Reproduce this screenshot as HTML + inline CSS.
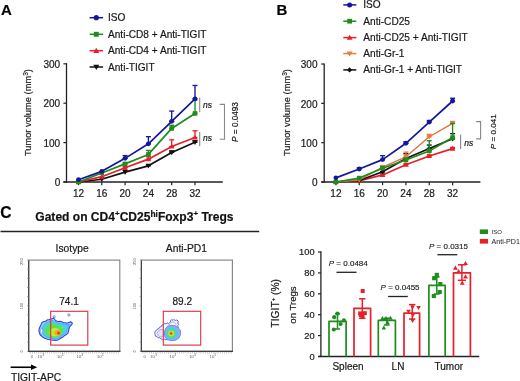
<!DOCTYPE html>
<html><head><meta charset="utf-8"><style>
html,body{margin:0;padding:0;background:#fff;overflow:hidden;}
svg{display:block;font-family:"Liberation Sans", sans-serif;will-change:transform;}
text{stroke:#1a1a1a;stroke-width:0.2px;}
text.lt{stroke:none;}
text.th{stroke-width:0.14px;}
</style></head><body>
<svg width="520" height="381" viewBox="0 0 520 381">
<rect width="520" height="381" fill="#fff"/>
<text x="0.90" y="14.60" font-size="15" text-anchor="start" font-weight="bold" font-style="normal" fill="#000" >A</text>
<line x1="89.60" y1="17.70" x2="103.10" y2="17.70" stroke="#16169c" stroke-width="1.5" />
<circle cx="96.30" cy="17.70" r="2.60" fill="#16169c"/>
<text x="108.00" y="21.20" font-size="10.1" text-anchor="start" font-weight="normal" font-style="normal" fill="#1a1a1a" >ISO</text>
<line x1="89.60" y1="34.30" x2="103.10" y2="34.30" stroke="#1e8c1e" stroke-width="1.5" />
<rect x="93.83" y="31.83" width="4.94" height="4.94" fill="#1e8c1e"/>
<text x="108.00" y="37.80" font-size="10.1" text-anchor="start" font-weight="normal" font-style="normal" fill="#1a1a1a" >Anti-CD8 + Anti-TIGIT</text>
<line x1="89.60" y1="50.70" x2="103.10" y2="50.70" stroke="#e5202a" stroke-width="1.5" />
<path d="M96.30,47.71 L99.29,52.94 L93.31,52.94Z" fill="#e5202a"/>
<text x="108.00" y="54.20" font-size="10.1" text-anchor="start" font-weight="normal" font-style="normal" fill="#1a1a1a" >Anti-CD4 + Anti-TIGIT</text>
<line x1="89.60" y1="67.00" x2="103.10" y2="67.00" stroke="#111" stroke-width="1.5" />
<path d="M96.30,69.99 L99.29,64.76 L93.31,64.76Z" fill="#111"/>
<text x="108.00" y="70.50" font-size="10.1" text-anchor="start" font-weight="normal" font-style="normal" fill="#1a1a1a" >Anti-TIGIT</text>
<line x1="66.50" y1="63.20" x2="66.50" y2="182.60" stroke="#222" stroke-width="1.3" />
<line x1="63.30" y1="182.00" x2="222.80" y2="182.00" stroke="#222" stroke-width="1.3" />
<line x1="63.40" y1="182.00" x2="66.50" y2="182.00" stroke="#222" stroke-width="1.2" />
<text x="60.20" y="186.20" font-size="10" text-anchor="end" font-weight="normal" font-style="normal" fill="#1a1a1a" >0</text>
<line x1="63.40" y1="142.60" x2="66.50" y2="142.60" stroke="#222" stroke-width="1.2" />
<text x="60.20" y="146.80" font-size="10" text-anchor="end" font-weight="normal" font-style="normal" fill="#1a1a1a" >100</text>
<line x1="63.40" y1="103.20" x2="66.50" y2="103.20" stroke="#222" stroke-width="1.2" />
<text x="60.20" y="107.40" font-size="10" text-anchor="end" font-weight="normal" font-style="normal" fill="#1a1a1a" >200</text>
<line x1="63.40" y1="63.80" x2="66.50" y2="63.80" stroke="#222" stroke-width="1.2" />
<text x="60.20" y="68.00" font-size="10" text-anchor="end" font-weight="normal" font-style="normal" fill="#1a1a1a" >300</text>
<line x1="78.50" y1="182.00" x2="78.50" y2="185.20" stroke="#222" stroke-width="1.2" />
<text x="78.50" y="196.50" font-size="10" text-anchor="middle" font-weight="normal" font-style="normal" fill="#1a1a1a" >12</text>
<line x1="101.80" y1="182.00" x2="101.80" y2="185.20" stroke="#222" stroke-width="1.2" />
<text x="101.80" y="196.50" font-size="10" text-anchor="middle" font-weight="normal" font-style="normal" fill="#1a1a1a" >16</text>
<line x1="125.10" y1="182.00" x2="125.10" y2="185.20" stroke="#222" stroke-width="1.2" />
<text x="125.10" y="196.50" font-size="10" text-anchor="middle" font-weight="normal" font-style="normal" fill="#1a1a1a" >20</text>
<line x1="148.40" y1="182.00" x2="148.40" y2="185.20" stroke="#222" stroke-width="1.2" />
<text x="148.40" y="196.50" font-size="10" text-anchor="middle" font-weight="normal" font-style="normal" fill="#1a1a1a" >24</text>
<line x1="171.70" y1="182.00" x2="171.70" y2="185.20" stroke="#222" stroke-width="1.2" />
<text x="171.70" y="196.50" font-size="10" text-anchor="middle" font-weight="normal" font-style="normal" fill="#1a1a1a" >28</text>
<line x1="195.00" y1="182.00" x2="195.00" y2="185.20" stroke="#222" stroke-width="1.2" />
<text x="195.00" y="196.50" font-size="10" text-anchor="middle" font-weight="normal" font-style="normal" fill="#1a1a1a" >32</text>
<text transform="translate(30.8,112.6) rotate(-90)" font-size="9.3" text-anchor="middle" fill="#1a1a1a">Tumor volume (mm<tspan font-size="6.6" dy="-3.3">3</tspan><tspan dy="3.3">)</tspan></text>
<polyline points="78.50,182.00 101.80,179.24 125.10,172.15 148.40,165.85 171.70,152.45 195.00,142.21" fill="none" stroke="#111" stroke-width="1.7" stroke-linejoin="round"/>
<line x1="148.40" y1="164.66" x2="148.40" y2="165.85" stroke="#111" stroke-width="1.35" />
<line x1="145.90" y1="164.66" x2="150.90" y2="164.66" stroke="#111" stroke-width="1.35" />
<line x1="145.90" y1="165.85" x2="150.90" y2="165.85" stroke="#111" stroke-width="1.35" />
<line x1="171.70" y1="150.87" x2="171.70" y2="152.45" stroke="#111" stroke-width="1.35" />
<line x1="169.20" y1="150.87" x2="174.20" y2="150.87" stroke="#111" stroke-width="1.35" />
<line x1="169.20" y1="152.45" x2="174.20" y2="152.45" stroke="#111" stroke-width="1.35" />
<line x1="195.00" y1="140.63" x2="195.00" y2="142.21" stroke="#111" stroke-width="1.35" />
<line x1="192.50" y1="140.63" x2="197.50" y2="140.63" stroke="#111" stroke-width="1.35" />
<line x1="192.50" y1="142.21" x2="197.50" y2="142.21" stroke="#111" stroke-width="1.35" />
<path d="M78.50,184.76 L81.26,179.93 L75.74,179.93Z" fill="#111"/>
<path d="M101.80,182.00 L104.56,177.17 L99.04,177.17Z" fill="#111"/>
<path d="M125.10,174.91 L127.86,170.08 L122.34,170.08Z" fill="#111"/>
<path d="M148.40,168.61 L151.16,163.78 L145.64,163.78Z" fill="#111"/>
<path d="M171.70,155.21 L174.46,150.38 L168.94,150.38Z" fill="#111"/>
<path d="M195.00,144.97 L197.76,140.14 L192.24,140.14Z" fill="#111"/>
<polyline points="78.50,182.00 101.80,176.68 125.10,167.82 148.40,159.15 171.70,146.54 195.00,137.48" fill="none" stroke="#e5202a" stroke-width="1.7" stroke-linejoin="round"/>
<line x1="125.10" y1="166.63" x2="125.10" y2="167.82" stroke="#e5202a" stroke-width="1.35" />
<line x1="122.60" y1="166.63" x2="127.60" y2="166.63" stroke="#e5202a" stroke-width="1.35" />
<line x1="122.60" y1="167.82" x2="127.60" y2="167.82" stroke="#e5202a" stroke-width="1.35" />
<line x1="148.40" y1="156.78" x2="148.40" y2="159.15" stroke="#e5202a" stroke-width="1.35" />
<line x1="145.90" y1="156.78" x2="150.90" y2="156.78" stroke="#e5202a" stroke-width="1.35" />
<line x1="145.90" y1="159.15" x2="150.90" y2="159.15" stroke="#e5202a" stroke-width="1.35" />
<line x1="171.70" y1="139.84" x2="171.70" y2="146.54" stroke="#e5202a" stroke-width="1.35" />
<line x1="169.20" y1="139.84" x2="174.20" y2="139.84" stroke="#e5202a" stroke-width="1.35" />
<line x1="169.20" y1="146.54" x2="174.20" y2="146.54" stroke="#e5202a" stroke-width="1.35" />
<line x1="195.00" y1="130.78" x2="195.00" y2="137.48" stroke="#e5202a" stroke-width="1.35" />
<line x1="192.50" y1="130.78" x2="197.50" y2="130.78" stroke="#e5202a" stroke-width="1.35" />
<line x1="192.50" y1="137.48" x2="197.50" y2="137.48" stroke="#e5202a" stroke-width="1.35" />
<path d="M78.50,179.24 L81.26,184.07 L75.74,184.07Z" fill="#e5202a"/>
<path d="M101.80,173.92 L104.56,178.75 L99.04,178.75Z" fill="#e5202a"/>
<path d="M125.10,165.06 L127.86,169.89 L122.34,169.89Z" fill="#e5202a"/>
<path d="M148.40,156.39 L151.16,161.22 L145.64,161.22Z" fill="#e5202a"/>
<path d="M171.70,143.78 L174.46,148.61 L168.94,148.61Z" fill="#e5202a"/>
<path d="M195.00,134.72 L197.76,139.55 L192.24,139.55Z" fill="#e5202a"/>
<polyline points="78.50,182.00 101.80,172.94 125.10,163.88 148.40,154.42 171.70,128.42 195.00,113.44" fill="none" stroke="#1e8c1e" stroke-width="1.7" stroke-linejoin="round"/>
<line x1="125.10" y1="162.69" x2="125.10" y2="163.88" stroke="#1e8c1e" stroke-width="1.35" />
<line x1="122.60" y1="162.69" x2="127.60" y2="162.69" stroke="#1e8c1e" stroke-width="1.35" />
<line x1="122.60" y1="163.88" x2="127.60" y2="163.88" stroke="#1e8c1e" stroke-width="1.35" />
<line x1="148.40" y1="150.48" x2="148.40" y2="154.42" stroke="#1e8c1e" stroke-width="1.35" />
<line x1="145.90" y1="150.48" x2="150.90" y2="150.48" stroke="#1e8c1e" stroke-width="1.35" />
<line x1="145.90" y1="154.42" x2="150.90" y2="154.42" stroke="#1e8c1e" stroke-width="1.35" />
<line x1="171.70" y1="125.26" x2="171.70" y2="128.42" stroke="#1e8c1e" stroke-width="1.35" />
<line x1="169.20" y1="125.26" x2="174.20" y2="125.26" stroke="#1e8c1e" stroke-width="1.35" />
<line x1="169.20" y1="128.42" x2="174.20" y2="128.42" stroke="#1e8c1e" stroke-width="1.35" />
<line x1="195.00" y1="100.05" x2="195.00" y2="113.44" stroke="#1e8c1e" stroke-width="1.35" />
<line x1="192.50" y1="100.05" x2="197.50" y2="100.05" stroke="#1e8c1e" stroke-width="1.35" />
<line x1="192.50" y1="113.44" x2="197.50" y2="113.44" stroke="#1e8c1e" stroke-width="1.35" />
<rect x="76.22" y="179.72" width="4.56" height="4.56" fill="#1e8c1e"/>
<rect x="99.52" y="170.66" width="4.56" height="4.56" fill="#1e8c1e"/>
<rect x="122.82" y="161.60" width="4.56" height="4.56" fill="#1e8c1e"/>
<rect x="146.12" y="152.14" width="4.56" height="4.56" fill="#1e8c1e"/>
<rect x="169.42" y="126.14" width="4.56" height="4.56" fill="#1e8c1e"/>
<rect x="192.72" y="111.16" width="4.56" height="4.56" fill="#1e8c1e"/>
<polyline points="78.50,179.71 101.80,171.36 125.10,158.36 148.40,143.78 171.70,121.32 195.00,98.87" fill="none" stroke="#16169c" stroke-width="1.7" stroke-linejoin="round"/>
<line x1="125.10" y1="155.60" x2="125.10" y2="158.36" stroke="#16169c" stroke-width="1.35" />
<line x1="122.60" y1="155.60" x2="127.60" y2="155.60" stroke="#16169c" stroke-width="1.35" />
<line x1="122.60" y1="158.36" x2="127.60" y2="158.36" stroke="#16169c" stroke-width="1.35" />
<line x1="148.40" y1="136.69" x2="148.40" y2="143.78" stroke="#16169c" stroke-width="1.35" />
<line x1="145.90" y1="136.69" x2="150.90" y2="136.69" stroke="#16169c" stroke-width="1.35" />
<line x1="145.90" y1="143.78" x2="150.90" y2="143.78" stroke="#16169c" stroke-width="1.35" />
<line x1="171.70" y1="111.08" x2="171.70" y2="121.32" stroke="#16169c" stroke-width="1.35" />
<line x1="169.20" y1="111.08" x2="174.20" y2="111.08" stroke="#16169c" stroke-width="1.35" />
<line x1="169.20" y1="121.32" x2="174.20" y2="121.32" stroke="#16169c" stroke-width="1.35" />
<line x1="195.00" y1="85.47" x2="195.00" y2="98.87" stroke="#16169c" stroke-width="1.35" />
<line x1="192.50" y1="85.47" x2="197.50" y2="85.47" stroke="#16169c" stroke-width="1.35" />
<line x1="192.50" y1="98.87" x2="197.50" y2="98.87" stroke="#16169c" stroke-width="1.35" />
<circle cx="78.50" cy="179.71" r="2.40" fill="#16169c"/>
<circle cx="101.80" cy="171.36" r="2.40" fill="#16169c"/>
<circle cx="125.10" cy="158.36" r="2.40" fill="#16169c"/>
<circle cx="148.40" cy="143.78" r="2.40" fill="#16169c"/>
<circle cx="171.70" cy="121.32" r="2.40" fill="#16169c"/>
<circle cx="195.00" cy="98.87" r="2.40" fill="#16169c"/>
<line x1="199.70" y1="97.80" x2="199.70" y2="112.20" stroke="#888" stroke-width="1.1" />
<text x="203.00" y="107.60" font-size="8.5" text-anchor="start" font-weight="normal" font-style="italic" fill="#1a1a1a" >ns</text>
<line x1="199.70" y1="131.90" x2="199.70" y2="146.30" stroke="#888" stroke-width="1.1" />
<text x="203.00" y="140.60" font-size="8.5" text-anchor="start" font-weight="normal" font-style="italic" fill="#1a1a1a" >ns</text>
<path d="M219.7,104.4 H224.5 V139.3 H219.7" fill="none" stroke="#888" stroke-width="1.1"/>
<text transform="translate(237.9,122.0) rotate(-90)" font-size="8.2" text-anchor="middle" fill="#1a1a1a"><tspan font-style="italic">P</tspan> = 0.0493</text>
<text x="276.50" y="14.70" font-size="15" text-anchor="start" font-weight="bold" font-style="normal" fill="#000" >B</text>
<line x1="343.30" y1="4.90" x2="356.30" y2="4.90" stroke="#16169c" stroke-width="1.5" />
<circle cx="349.60" cy="4.90" r="2.50" fill="#16169c"/>
<text x="363.30" y="8.40" font-size="10.15" text-anchor="start" font-weight="normal" font-style="normal" fill="#1a1a1a" >ISO</text>
<line x1="343.30" y1="21.20" x2="356.30" y2="21.20" stroke="#1e8c1e" stroke-width="1.5" />
<rect x="347.23" y="18.82" width="4.75" height="4.75" fill="#1e8c1e"/>
<text x="363.30" y="24.70" font-size="10.15" text-anchor="start" font-weight="normal" font-style="normal" fill="#1a1a1a" >Anti-CD25</text>
<line x1="343.30" y1="37.60" x2="356.30" y2="37.60" stroke="#e5202a" stroke-width="1.5" />
<path d="M349.60,34.73 L352.48,39.76 L346.73,39.76Z" fill="#e5202a"/>
<text x="363.30" y="41.10" font-size="10.15" text-anchor="start" font-weight="normal" font-style="normal" fill="#1a1a1a" >Anti-CD25 + Anti-TIGIT</text>
<line x1="343.30" y1="53.60" x2="356.30" y2="53.60" stroke="#e97c42" stroke-width="1.5" />
<path d="M349.60,56.48 L352.48,51.44 L346.73,51.44Z" fill="#e97c42"/>
<text x="363.30" y="57.10" font-size="10.15" text-anchor="start" font-weight="normal" font-style="normal" fill="#1a1a1a" >Anti-Gr-1</text>
<line x1="343.30" y1="69.90" x2="356.30" y2="69.90" stroke="#111" stroke-width="1.5" />
<path d="M349.60,67.28 L352.23,69.90 L349.60,72.53 L346.98,69.90Z" fill="#111"/>
<text x="363.30" y="73.40" font-size="10.15" text-anchor="start" font-weight="normal" font-style="normal" fill="#1a1a1a" >Anti-Gr-1 + Anti-TIGIT</text>
<line x1="324.20" y1="63.50" x2="324.20" y2="182.60" stroke="#222" stroke-width="1.3" />
<line x1="321.20" y1="182.00" x2="480.40" y2="182.00" stroke="#222" stroke-width="1.3" />
<line x1="321.20" y1="182.00" x2="324.20" y2="182.00" stroke="#222" stroke-width="1.2" />
<text x="317.50" y="186.20" font-size="10" text-anchor="end" font-weight="normal" font-style="normal" fill="#1a1a1a" >0</text>
<line x1="321.20" y1="142.68" x2="324.20" y2="142.68" stroke="#222" stroke-width="1.2" />
<text x="317.50" y="146.88" font-size="10" text-anchor="end" font-weight="normal" font-style="normal" fill="#1a1a1a" >100</text>
<line x1="321.20" y1="103.36" x2="324.20" y2="103.36" stroke="#222" stroke-width="1.2" />
<text x="317.50" y="107.56" font-size="10" text-anchor="end" font-weight="normal" font-style="normal" fill="#1a1a1a" >200</text>
<line x1="321.20" y1="64.04" x2="324.20" y2="64.04" stroke="#222" stroke-width="1.2" />
<text x="317.50" y="68.24" font-size="10" text-anchor="end" font-weight="normal" font-style="normal" fill="#1a1a1a" >300</text>
<line x1="335.90" y1="182.00" x2="335.90" y2="185.20" stroke="#222" stroke-width="1.2" />
<text x="335.90" y="196.50" font-size="10" text-anchor="middle" font-weight="normal" font-style="normal" fill="#1a1a1a" >12</text>
<line x1="359.24" y1="182.00" x2="359.24" y2="185.20" stroke="#222" stroke-width="1.2" />
<text x="359.24" y="196.50" font-size="10" text-anchor="middle" font-weight="normal" font-style="normal" fill="#1a1a1a" >16</text>
<line x1="382.58" y1="182.00" x2="382.58" y2="185.20" stroke="#222" stroke-width="1.2" />
<text x="382.58" y="196.50" font-size="10" text-anchor="middle" font-weight="normal" font-style="normal" fill="#1a1a1a" >20</text>
<line x1="405.92" y1="182.00" x2="405.92" y2="185.20" stroke="#222" stroke-width="1.2" />
<text x="405.92" y="196.50" font-size="10" text-anchor="middle" font-weight="normal" font-style="normal" fill="#1a1a1a" >24</text>
<line x1="429.26" y1="182.00" x2="429.26" y2="185.20" stroke="#222" stroke-width="1.2" />
<text x="429.26" y="196.50" font-size="10" text-anchor="middle" font-weight="normal" font-style="normal" fill="#1a1a1a" >28</text>
<line x1="452.60" y1="182.00" x2="452.60" y2="185.20" stroke="#222" stroke-width="1.2" />
<text x="452.60" y="196.50" font-size="10" text-anchor="middle" font-weight="normal" font-style="normal" fill="#1a1a1a" >32</text>
<text transform="translate(290.2,112.6) rotate(-90)" font-size="9.3" text-anchor="middle" fill="#1a1a1a">Tumor volume (mm<tspan font-size="6.6" dy="-3.3">3</tspan><tspan dy="3.3">)</tspan></text>
<polyline points="335.90,182.00 359.24,180.82 382.58,174.92 405.92,164.70 429.26,156.05 452.60,148.58" fill="none" stroke="#e5202a" stroke-width="1.7" stroke-linejoin="round"/>
<line x1="382.58" y1="173.74" x2="382.58" y2="174.92" stroke="#e5202a" stroke-width="1.35" />
<line x1="380.08" y1="173.74" x2="385.08" y2="173.74" stroke="#e5202a" stroke-width="1.35" />
<line x1="380.08" y1="174.92" x2="385.08" y2="174.92" stroke="#e5202a" stroke-width="1.35" />
<line x1="405.92" y1="163.52" x2="405.92" y2="164.70" stroke="#e5202a" stroke-width="1.35" />
<line x1="403.42" y1="163.52" x2="408.42" y2="163.52" stroke="#e5202a" stroke-width="1.35" />
<line x1="403.42" y1="164.70" x2="408.42" y2="164.70" stroke="#e5202a" stroke-width="1.35" />
<line x1="429.26" y1="154.87" x2="429.26" y2="156.05" stroke="#e5202a" stroke-width="1.35" />
<line x1="426.76" y1="154.87" x2="431.76" y2="154.87" stroke="#e5202a" stroke-width="1.35" />
<line x1="426.76" y1="156.05" x2="431.76" y2="156.05" stroke="#e5202a" stroke-width="1.35" />
<line x1="452.60" y1="147.40" x2="452.60" y2="148.58" stroke="#e5202a" stroke-width="1.35" />
<line x1="450.10" y1="147.40" x2="455.10" y2="147.40" stroke="#e5202a" stroke-width="1.35" />
<line x1="450.10" y1="148.58" x2="455.10" y2="148.58" stroke="#e5202a" stroke-width="1.35" />
<path d="M335.90,179.24 L338.66,184.07 L333.14,184.07Z" fill="#e5202a"/>
<path d="M359.24,178.06 L362.00,182.89 L356.48,182.89Z" fill="#e5202a"/>
<path d="M382.58,172.16 L385.34,176.99 L379.82,176.99Z" fill="#e5202a"/>
<path d="M405.92,161.94 L408.68,166.77 L403.16,166.77Z" fill="#e5202a"/>
<path d="M429.26,153.29 L432.02,158.12 L426.50,158.12Z" fill="#e5202a"/>
<path d="M452.60,145.82 L455.36,150.65 L449.84,150.65Z" fill="#e5202a"/>
<polyline points="335.90,182.00 359.24,180.43 382.58,171.78 405.92,158.41 429.26,148.58 452.60,138.75" fill="none" stroke="#111" stroke-width="1.7" stroke-linejoin="round"/>
<line x1="382.58" y1="168.63" x2="382.58" y2="171.78" stroke="#111" stroke-width="1.35" />
<line x1="380.08" y1="168.63" x2="385.08" y2="168.63" stroke="#111" stroke-width="1.35" />
<line x1="380.08" y1="171.78" x2="385.08" y2="171.78" stroke="#111" stroke-width="1.35" />
<line x1="405.92" y1="153.69" x2="405.92" y2="158.41" stroke="#111" stroke-width="1.35" />
<line x1="403.42" y1="153.69" x2="408.42" y2="153.69" stroke="#111" stroke-width="1.35" />
<line x1="403.42" y1="158.41" x2="408.42" y2="158.41" stroke="#111" stroke-width="1.35" />
<line x1="429.26" y1="145.04" x2="429.26" y2="148.58" stroke="#111" stroke-width="1.35" />
<line x1="426.76" y1="145.04" x2="431.76" y2="145.04" stroke="#111" stroke-width="1.35" />
<line x1="426.76" y1="148.58" x2="431.76" y2="148.58" stroke="#111" stroke-width="1.35" />
<line x1="452.60" y1="133.64" x2="452.60" y2="138.75" stroke="#111" stroke-width="1.35" />
<line x1="450.10" y1="133.64" x2="455.10" y2="133.64" stroke="#111" stroke-width="1.35" />
<line x1="450.10" y1="138.75" x2="455.10" y2="138.75" stroke="#111" stroke-width="1.35" />
<path d="M335.90,179.48 L338.42,182.00 L335.90,184.52 L333.38,182.00Z" fill="#111"/>
<path d="M359.24,177.91 L361.76,180.43 L359.24,182.95 L356.72,180.43Z" fill="#111"/>
<path d="M382.58,169.26 L385.10,171.78 L382.58,174.30 L380.06,171.78Z" fill="#111"/>
<path d="M405.92,155.89 L408.44,158.41 L405.92,160.93 L403.40,158.41Z" fill="#111"/>
<path d="M429.26,146.06 L431.78,148.58 L429.26,151.10 L426.74,148.58Z" fill="#111"/>
<path d="M452.60,136.23 L455.12,138.75 L452.60,141.27 L450.08,138.75Z" fill="#111"/>
<polyline points="335.90,182.00 359.24,180.03 382.58,167.06 405.92,156.84 429.26,136.78 452.60,123.41" fill="none" stroke="#dc7040" stroke-width="1.35" stroke-linejoin="round"/>
<line x1="382.58" y1="165.49" x2="382.58" y2="167.06" stroke="#e97c42" stroke-width="1.35" />
<line x1="380.08" y1="165.49" x2="385.08" y2="165.49" stroke="#e97c42" stroke-width="1.35" />
<line x1="380.08" y1="167.06" x2="385.08" y2="167.06" stroke="#e97c42" stroke-width="1.35" />
<line x1="405.92" y1="152.12" x2="405.92" y2="156.84" stroke="#e97c42" stroke-width="1.35" />
<line x1="403.42" y1="152.12" x2="408.42" y2="152.12" stroke="#e97c42" stroke-width="1.35" />
<line x1="403.42" y1="156.84" x2="408.42" y2="156.84" stroke="#e97c42" stroke-width="1.35" />
<line x1="429.26" y1="134.42" x2="429.26" y2="136.78" stroke="#e97c42" stroke-width="1.35" />
<line x1="426.76" y1="134.42" x2="431.76" y2="134.42" stroke="#e97c42" stroke-width="1.35" />
<line x1="426.76" y1="136.78" x2="431.76" y2="136.78" stroke="#e97c42" stroke-width="1.35" />
<line x1="452.60" y1="121.45" x2="452.60" y2="123.41" stroke="#e97c42" stroke-width="1.35" />
<line x1="450.10" y1="121.45" x2="455.10" y2="121.45" stroke="#e97c42" stroke-width="1.35" />
<line x1="450.10" y1="123.41" x2="455.10" y2="123.41" stroke="#e97c42" stroke-width="1.35" />
<path d="M335.90,184.76 L338.66,179.93 L333.14,179.93Z" fill="#e97c42"/>
<path d="M359.24,182.79 L362.00,177.96 L356.48,177.96Z" fill="#e97c42"/>
<path d="M382.58,169.82 L385.34,164.99 L379.82,164.99Z" fill="#e97c42"/>
<path d="M405.92,159.60 L408.68,154.77 L403.16,154.77Z" fill="#e97c42"/>
<path d="M429.26,139.54 L432.02,134.71 L426.50,134.71Z" fill="#e97c42"/>
<path d="M452.60,126.17 L455.36,121.34 L449.84,121.34Z" fill="#e97c42"/>
<polyline points="335.90,182.00 359.24,178.07 382.58,168.24 405.92,159.98 429.26,150.94 452.60,137.57" fill="none" stroke="#1e8c1e" stroke-width="1.7" stroke-linejoin="round"/>
<line x1="382.58" y1="166.67" x2="382.58" y2="168.24" stroke="#1e8c1e" stroke-width="1.35" />
<line x1="380.08" y1="166.67" x2="385.08" y2="166.67" stroke="#1e8c1e" stroke-width="1.35" />
<line x1="380.08" y1="168.24" x2="385.08" y2="168.24" stroke="#1e8c1e" stroke-width="1.35" />
<line x1="405.92" y1="158.01" x2="405.92" y2="159.98" stroke="#1e8c1e" stroke-width="1.35" />
<line x1="403.42" y1="158.01" x2="408.42" y2="158.01" stroke="#1e8c1e" stroke-width="1.35" />
<line x1="403.42" y1="159.98" x2="408.42" y2="159.98" stroke="#1e8c1e" stroke-width="1.35" />
<line x1="429.26" y1="140.71" x2="429.26" y2="150.94" stroke="#1e8c1e" stroke-width="1.35" />
<line x1="426.76" y1="140.71" x2="431.76" y2="140.71" stroke="#1e8c1e" stroke-width="1.35" />
<line x1="426.76" y1="150.94" x2="431.76" y2="150.94" stroke="#1e8c1e" stroke-width="1.35" />
<line x1="452.60" y1="123.41" x2="452.60" y2="137.57" stroke="#1e8c1e" stroke-width="1.35" />
<line x1="450.10" y1="123.41" x2="455.10" y2="123.41" stroke="#1e8c1e" stroke-width="1.35" />
<line x1="450.10" y1="137.57" x2="455.10" y2="137.57" stroke="#1e8c1e" stroke-width="1.35" />
<rect x="333.62" y="179.72" width="4.56" height="4.56" fill="#1e8c1e"/>
<rect x="356.96" y="175.79" width="4.56" height="4.56" fill="#1e8c1e"/>
<rect x="380.30" y="165.96" width="4.56" height="4.56" fill="#1e8c1e"/>
<rect x="403.64" y="157.70" width="4.56" height="4.56" fill="#1e8c1e"/>
<rect x="426.98" y="148.66" width="4.56" height="4.56" fill="#1e8c1e"/>
<rect x="450.32" y="135.29" width="4.56" height="4.56" fill="#1e8c1e"/>
<polyline points="335.90,177.87 359.24,169.02 382.58,159.59 405.92,143.27 429.26,122.04 452.60,101.00" fill="none" stroke="#16169c" stroke-width="1.7" stroke-linejoin="round"/>
<line x1="359.24" y1="167.84" x2="359.24" y2="169.02" stroke="#16169c" stroke-width="1.35" />
<line x1="356.74" y1="167.84" x2="361.74" y2="167.84" stroke="#16169c" stroke-width="1.35" />
<line x1="356.74" y1="169.02" x2="361.74" y2="169.02" stroke="#16169c" stroke-width="1.35" />
<line x1="382.58" y1="155.66" x2="382.58" y2="159.59" stroke="#16169c" stroke-width="1.35" />
<line x1="380.08" y1="155.66" x2="385.08" y2="155.66" stroke="#16169c" stroke-width="1.35" />
<line x1="380.08" y1="159.59" x2="385.08" y2="159.59" stroke="#16169c" stroke-width="1.35" />
<line x1="405.92" y1="141.70" x2="405.92" y2="143.27" stroke="#16169c" stroke-width="1.35" />
<line x1="403.42" y1="141.70" x2="408.42" y2="141.70" stroke="#16169c" stroke-width="1.35" />
<line x1="403.42" y1="143.27" x2="408.42" y2="143.27" stroke="#16169c" stroke-width="1.35" />
<line x1="429.26" y1="120.46" x2="429.26" y2="122.04" stroke="#16169c" stroke-width="1.35" />
<line x1="426.76" y1="120.46" x2="431.76" y2="120.46" stroke="#16169c" stroke-width="1.35" />
<line x1="426.76" y1="122.04" x2="431.76" y2="122.04" stroke="#16169c" stroke-width="1.35" />
<line x1="452.60" y1="98.25" x2="452.60" y2="101.00" stroke="#16169c" stroke-width="1.35" />
<line x1="450.10" y1="98.25" x2="455.10" y2="98.25" stroke="#16169c" stroke-width="1.35" />
<line x1="450.10" y1="101.00" x2="455.10" y2="101.00" stroke="#16169c" stroke-width="1.35" />
<circle cx="335.90" cy="177.87" r="2.40" fill="#16169c"/>
<circle cx="359.24" cy="169.02" r="2.40" fill="#16169c"/>
<circle cx="382.58" cy="159.59" r="2.40" fill="#16169c"/>
<circle cx="405.92" cy="143.27" r="2.40" fill="#16169c"/>
<circle cx="429.26" cy="122.04" r="2.40" fill="#16169c"/>
<circle cx="452.60" cy="101.00" r="2.40" fill="#16169c"/>
<line x1="460.60" y1="134.60" x2="460.60" y2="149.00" stroke="#888" stroke-width="1.1" />
<text x="464.20" y="146.00" font-size="8.5" text-anchor="start" font-weight="normal" font-style="italic" fill="#1a1a1a" >ns</text>
<path d="M476.2,121.6 H480.6 V138.9 H476.2" fill="none" stroke="#888" stroke-width="1.1"/>
<text transform="translate(496.2,131.8) rotate(-90)" font-size="8.1" text-anchor="middle" fill="#1a1a1a"><tspan font-style="italic">P</tspan> = 0.041</text>
<text x="0.30" y="218.00" font-size="15.6" text-anchor="start" font-weight="bold" font-style="normal" fill="#000" >C</text>
<text x="35.3" y="220.6" font-size="12.05" font-weight="bold" fill="#111">Gated on CD4<tspan font-size="8" dy="-4.2">+</tspan><tspan dy="4.2">CD25</tspan><tspan font-size="8.4" dy="-4.1">hi</tspan><tspan dy="4.1">Foxp3</tspan><tspan font-size="8" dy="-4.2">+</tspan><tspan dy="4.2"> Tregs</tspan></text>
<line x1="0.50" y1="231.50" x2="259.20" y2="231.50" stroke="#222" stroke-width="1.3" />
<text x="55.60" y="251.50" font-size="10.3" text-anchor="start" font-weight="normal" font-style="normal" fill="#1a1a1a" >Isotype</text>
<text x="165.80" y="251.50" font-size="10.3" text-anchor="start" font-weight="normal" font-style="normal" fill="#1a1a1a" >Anti-PD1</text>
<rect x="28.70" y="260.10" width="91.10" height="91.20" fill="none" stroke="#858585" stroke-width="1.15"/>
<line x1="28.70" y1="260.60" x2="28.70" y2="351.90" stroke="#444" stroke-width="1.2" />
<line x1="28.10" y1="351.30" x2="120.40" y2="351.30" stroke="#3a3a3a" stroke-width="1.3" />
<line x1="27.10" y1="260.10" x2="28.70" y2="260.10" stroke="#777" stroke-width="0.7" />
<line x1="27.10" y1="269.22" x2="28.70" y2="269.22" stroke="#777" stroke-width="0.7" />
<line x1="27.10" y1="278.34" x2="28.70" y2="278.34" stroke="#777" stroke-width="0.7" />
<line x1="27.10" y1="287.46" x2="28.70" y2="287.46" stroke="#777" stroke-width="0.7" />
<line x1="27.10" y1="296.58" x2="28.70" y2="296.58" stroke="#777" stroke-width="0.7" />
<line x1="27.10" y1="305.70" x2="28.70" y2="305.70" stroke="#777" stroke-width="0.7" />
<line x1="27.10" y1="314.82" x2="28.70" y2="314.82" stroke="#777" stroke-width="0.7" />
<line x1="27.10" y1="323.94" x2="28.70" y2="323.94" stroke="#777" stroke-width="0.7" />
<line x1="27.10" y1="333.06" x2="28.70" y2="333.06" stroke="#777" stroke-width="0.7" />
<line x1="27.10" y1="342.18" x2="28.70" y2="342.18" stroke="#777" stroke-width="0.7" />
<line x1="27.10" y1="351.30" x2="28.70" y2="351.30" stroke="#777" stroke-width="0.7" />
<text transform="translate(23.10,261.60) rotate(-90)" font-size="4" text-anchor="middle" fill="#555" class="lt">250</text>
<text transform="translate(23.10,306.10) rotate(-90)" font-size="4" text-anchor="middle" fill="#555" class="lt">100</text>
<text transform="translate(23.10,351.30) rotate(-90)" font-size="4" text-anchor="middle" fill="#555" class="lt">0</text>
<line x1="30.20" y1="351.90" x2="30.20" y2="353.50" stroke="#9a9a9a" stroke-width="0.6" />
<line x1="32.35" y1="351.90" x2="32.35" y2="353.50" stroke="#9a9a9a" stroke-width="0.6" />
<line x1="34.50" y1="351.90" x2="34.50" y2="353.50" stroke="#9a9a9a" stroke-width="0.6" />
<line x1="36.65" y1="351.90" x2="36.65" y2="353.50" stroke="#9a9a9a" stroke-width="0.6" />
<line x1="38.80" y1="351.90" x2="38.80" y2="353.50" stroke="#9a9a9a" stroke-width="0.6" />
<line x1="40.95" y1="351.90" x2="40.95" y2="353.50" stroke="#9a9a9a" stroke-width="0.6" />
<line x1="43.10" y1="351.90" x2="43.10" y2="353.50" stroke="#9a9a9a" stroke-width="0.6" />
<line x1="45.25" y1="351.90" x2="45.25" y2="353.50" stroke="#9a9a9a" stroke-width="0.6" />
<line x1="47.40" y1="351.90" x2="47.40" y2="353.50" stroke="#9a9a9a" stroke-width="0.6" />
<line x1="49.55" y1="351.90" x2="49.55" y2="353.50" stroke="#9a9a9a" stroke-width="0.6" />
<line x1="51.70" y1="351.90" x2="51.70" y2="353.50" stroke="#9a9a9a" stroke-width="0.6" />
<line x1="53.85" y1="351.90" x2="53.85" y2="353.50" stroke="#9a9a9a" stroke-width="0.6" />
<line x1="56.00" y1="351.90" x2="56.00" y2="353.50" stroke="#9a9a9a" stroke-width="0.6" />
<line x1="58.15" y1="351.90" x2="58.15" y2="353.50" stroke="#9a9a9a" stroke-width="0.6" />
<line x1="60.30" y1="351.90" x2="60.30" y2="353.50" stroke="#9a9a9a" stroke-width="0.6" />
<line x1="62.45" y1="351.90" x2="62.45" y2="353.50" stroke="#9a9a9a" stroke-width="0.6" />
<line x1="64.60" y1="351.90" x2="64.60" y2="353.50" stroke="#9a9a9a" stroke-width="0.6" />
<line x1="66.75" y1="351.90" x2="66.75" y2="353.50" stroke="#9a9a9a" stroke-width="0.6" />
<line x1="68.90" y1="351.90" x2="68.90" y2="353.50" stroke="#9a9a9a" stroke-width="0.6" />
<line x1="71.05" y1="351.90" x2="71.05" y2="353.50" stroke="#9a9a9a" stroke-width="0.6" />
<line x1="73.20" y1="351.90" x2="73.20" y2="353.50" stroke="#9a9a9a" stroke-width="0.6" />
<line x1="75.35" y1="351.90" x2="75.35" y2="353.50" stroke="#9a9a9a" stroke-width="0.6" />
<line x1="77.50" y1="351.90" x2="77.50" y2="353.50" stroke="#9a9a9a" stroke-width="0.6" />
<line x1="79.65" y1="351.90" x2="79.65" y2="353.50" stroke="#9a9a9a" stroke-width="0.6" />
<line x1="81.80" y1="351.90" x2="81.80" y2="353.50" stroke="#9a9a9a" stroke-width="0.6" />
<line x1="83.95" y1="351.90" x2="83.95" y2="353.50" stroke="#9a9a9a" stroke-width="0.6" />
<line x1="86.10" y1="351.90" x2="86.10" y2="353.50" stroke="#9a9a9a" stroke-width="0.6" />
<line x1="88.25" y1="351.90" x2="88.25" y2="353.50" stroke="#9a9a9a" stroke-width="0.6" />
<line x1="90.40" y1="351.90" x2="90.40" y2="353.50" stroke="#9a9a9a" stroke-width="0.6" />
<line x1="92.55" y1="351.90" x2="92.55" y2="353.50" stroke="#9a9a9a" stroke-width="0.6" />
<line x1="94.70" y1="351.90" x2="94.70" y2="353.50" stroke="#9a9a9a" stroke-width="0.6" />
<line x1="96.85" y1="351.90" x2="96.85" y2="353.50" stroke="#9a9a9a" stroke-width="0.6" />
<line x1="99.00" y1="351.90" x2="99.00" y2="353.50" stroke="#9a9a9a" stroke-width="0.6" />
<line x1="101.15" y1="351.90" x2="101.15" y2="353.50" stroke="#9a9a9a" stroke-width="0.6" />
<line x1="103.30" y1="351.90" x2="103.30" y2="353.50" stroke="#9a9a9a" stroke-width="0.6" />
<line x1="105.45" y1="351.90" x2="105.45" y2="353.50" stroke="#9a9a9a" stroke-width="0.6" />
<line x1="107.60" y1="351.90" x2="107.60" y2="353.50" stroke="#9a9a9a" stroke-width="0.6" />
<line x1="109.75" y1="351.90" x2="109.75" y2="353.50" stroke="#9a9a9a" stroke-width="0.6" />
<line x1="111.90" y1="351.90" x2="111.90" y2="353.50" stroke="#9a9a9a" stroke-width="0.6" />
<line x1="114.05" y1="351.90" x2="114.05" y2="353.50" stroke="#9a9a9a" stroke-width="0.6" />
<line x1="116.20" y1="351.90" x2="116.20" y2="353.50" stroke="#9a9a9a" stroke-width="0.6" />
<line x1="118.35" y1="351.90" x2="118.35" y2="353.50" stroke="#9a9a9a" stroke-width="0.6" />
<text x="30.70" y="358.10" font-size="4.2" fill="#5a5a5a" class="lt">0</text>
<text x="37.50" y="358.10" font-size="4.2" fill="#5a5a5a" class="lt">10<tspan font-size="3" dy="-1.8" dx="0.3">3</tspan></text>
<text x="56.90" y="358.10" font-size="4.2" fill="#5a5a5a" class="lt">10<tspan font-size="3" dy="-1.8" dx="0.3">3</tspan></text>
<text x="76.50" y="358.10" font-size="4.2" fill="#5a5a5a" class="lt">10<tspan font-size="3" dy="-1.8" dx="0.3">4</tspan></text>
<text x="96.90" y="358.10" font-size="4.2" fill="#5a5a5a" class="lt">10<tspan font-size="3" dy="-1.8" dx="0.3">5</tspan></text>
<rect x="141.40" y="260.10" width="91.00" height="91.20" fill="none" stroke="#858585" stroke-width="1.15"/>
<line x1="141.40" y1="260.60" x2="141.40" y2="351.90" stroke="#444" stroke-width="1.2" />
<line x1="140.80" y1="351.30" x2="233.00" y2="351.30" stroke="#3a3a3a" stroke-width="1.3" />
<line x1="139.80" y1="260.10" x2="141.40" y2="260.10" stroke="#777" stroke-width="0.7" />
<line x1="139.80" y1="269.22" x2="141.40" y2="269.22" stroke="#777" stroke-width="0.7" />
<line x1="139.80" y1="278.34" x2="141.40" y2="278.34" stroke="#777" stroke-width="0.7" />
<line x1="139.80" y1="287.46" x2="141.40" y2="287.46" stroke="#777" stroke-width="0.7" />
<line x1="139.80" y1="296.58" x2="141.40" y2="296.58" stroke="#777" stroke-width="0.7" />
<line x1="139.80" y1="305.70" x2="141.40" y2="305.70" stroke="#777" stroke-width="0.7" />
<line x1="139.80" y1="314.82" x2="141.40" y2="314.82" stroke="#777" stroke-width="0.7" />
<line x1="139.80" y1="323.94" x2="141.40" y2="323.94" stroke="#777" stroke-width="0.7" />
<line x1="139.80" y1="333.06" x2="141.40" y2="333.06" stroke="#777" stroke-width="0.7" />
<line x1="139.80" y1="342.18" x2="141.40" y2="342.18" stroke="#777" stroke-width="0.7" />
<line x1="139.80" y1="351.30" x2="141.40" y2="351.30" stroke="#777" stroke-width="0.7" />
<text transform="translate(135.80,261.60) rotate(-90)" font-size="4" text-anchor="middle" fill="#555" class="lt">250</text>
<text transform="translate(135.80,306.10) rotate(-90)" font-size="4" text-anchor="middle" fill="#555" class="lt">100</text>
<text transform="translate(135.80,351.30) rotate(-90)" font-size="4" text-anchor="middle" fill="#555" class="lt">0</text>
<line x1="142.90" y1="351.90" x2="142.90" y2="353.50" stroke="#9a9a9a" stroke-width="0.6" />
<line x1="145.05" y1="351.90" x2="145.05" y2="353.50" stroke="#9a9a9a" stroke-width="0.6" />
<line x1="147.20" y1="351.90" x2="147.20" y2="353.50" stroke="#9a9a9a" stroke-width="0.6" />
<line x1="149.35" y1="351.90" x2="149.35" y2="353.50" stroke="#9a9a9a" stroke-width="0.6" />
<line x1="151.50" y1="351.90" x2="151.50" y2="353.50" stroke="#9a9a9a" stroke-width="0.6" />
<line x1="153.65" y1="351.90" x2="153.65" y2="353.50" stroke="#9a9a9a" stroke-width="0.6" />
<line x1="155.80" y1="351.90" x2="155.80" y2="353.50" stroke="#9a9a9a" stroke-width="0.6" />
<line x1="157.95" y1="351.90" x2="157.95" y2="353.50" stroke="#9a9a9a" stroke-width="0.6" />
<line x1="160.10" y1="351.90" x2="160.10" y2="353.50" stroke="#9a9a9a" stroke-width="0.6" />
<line x1="162.25" y1="351.90" x2="162.25" y2="353.50" stroke="#9a9a9a" stroke-width="0.6" />
<line x1="164.40" y1="351.90" x2="164.40" y2="353.50" stroke="#9a9a9a" stroke-width="0.6" />
<line x1="166.55" y1="351.90" x2="166.55" y2="353.50" stroke="#9a9a9a" stroke-width="0.6" />
<line x1="168.70" y1="351.90" x2="168.70" y2="353.50" stroke="#9a9a9a" stroke-width="0.6" />
<line x1="170.85" y1="351.90" x2="170.85" y2="353.50" stroke="#9a9a9a" stroke-width="0.6" />
<line x1="173.00" y1="351.90" x2="173.00" y2="353.50" stroke="#9a9a9a" stroke-width="0.6" />
<line x1="175.15" y1="351.90" x2="175.15" y2="353.50" stroke="#9a9a9a" stroke-width="0.6" />
<line x1="177.30" y1="351.90" x2="177.30" y2="353.50" stroke="#9a9a9a" stroke-width="0.6" />
<line x1="179.45" y1="351.90" x2="179.45" y2="353.50" stroke="#9a9a9a" stroke-width="0.6" />
<line x1="181.60" y1="351.90" x2="181.60" y2="353.50" stroke="#9a9a9a" stroke-width="0.6" />
<line x1="183.75" y1="351.90" x2="183.75" y2="353.50" stroke="#9a9a9a" stroke-width="0.6" />
<line x1="185.90" y1="351.90" x2="185.90" y2="353.50" stroke="#9a9a9a" stroke-width="0.6" />
<line x1="188.05" y1="351.90" x2="188.05" y2="353.50" stroke="#9a9a9a" stroke-width="0.6" />
<line x1="190.20" y1="351.90" x2="190.20" y2="353.50" stroke="#9a9a9a" stroke-width="0.6" />
<line x1="192.35" y1="351.90" x2="192.35" y2="353.50" stroke="#9a9a9a" stroke-width="0.6" />
<line x1="194.50" y1="351.90" x2="194.50" y2="353.50" stroke="#9a9a9a" stroke-width="0.6" />
<line x1="196.65" y1="351.90" x2="196.65" y2="353.50" stroke="#9a9a9a" stroke-width="0.6" />
<line x1="198.80" y1="351.90" x2="198.80" y2="353.50" stroke="#9a9a9a" stroke-width="0.6" />
<line x1="200.95" y1="351.90" x2="200.95" y2="353.50" stroke="#9a9a9a" stroke-width="0.6" />
<line x1="203.10" y1="351.90" x2="203.10" y2="353.50" stroke="#9a9a9a" stroke-width="0.6" />
<line x1="205.25" y1="351.90" x2="205.25" y2="353.50" stroke="#9a9a9a" stroke-width="0.6" />
<line x1="207.40" y1="351.90" x2="207.40" y2="353.50" stroke="#9a9a9a" stroke-width="0.6" />
<line x1="209.55" y1="351.90" x2="209.55" y2="353.50" stroke="#9a9a9a" stroke-width="0.6" />
<line x1="211.70" y1="351.90" x2="211.70" y2="353.50" stroke="#9a9a9a" stroke-width="0.6" />
<line x1="213.85" y1="351.90" x2="213.85" y2="353.50" stroke="#9a9a9a" stroke-width="0.6" />
<line x1="216.00" y1="351.90" x2="216.00" y2="353.50" stroke="#9a9a9a" stroke-width="0.6" />
<line x1="218.15" y1="351.90" x2="218.15" y2="353.50" stroke="#9a9a9a" stroke-width="0.6" />
<line x1="220.30" y1="351.90" x2="220.30" y2="353.50" stroke="#9a9a9a" stroke-width="0.6" />
<line x1="222.45" y1="351.90" x2="222.45" y2="353.50" stroke="#9a9a9a" stroke-width="0.6" />
<line x1="224.60" y1="351.90" x2="224.60" y2="353.50" stroke="#9a9a9a" stroke-width="0.6" />
<line x1="226.75" y1="351.90" x2="226.75" y2="353.50" stroke="#9a9a9a" stroke-width="0.6" />
<line x1="228.90" y1="351.90" x2="228.90" y2="353.50" stroke="#9a9a9a" stroke-width="0.6" />
<line x1="231.05" y1="351.90" x2="231.05" y2="353.50" stroke="#9a9a9a" stroke-width="0.6" />
<text x="143.40" y="358.10" font-size="4.2" fill="#5a5a5a" class="lt">0</text>
<text x="150.20" y="358.10" font-size="4.2" fill="#5a5a5a" class="lt">10<tspan font-size="3" dy="-1.8" dx="0.3">3</tspan></text>
<text x="169.60" y="358.10" font-size="4.2" fill="#5a5a5a" class="lt">10<tspan font-size="3" dy="-1.8" dx="0.3">3</tspan></text>
<text x="189.20" y="358.10" font-size="4.2" fill="#5a5a5a" class="lt">10<tspan font-size="3" dy="-1.8" dx="0.3">4</tspan></text>
<text x="209.60" y="358.10" font-size="4.2" fill="#5a5a5a" class="lt">10<tspan font-size="3" dy="-1.8" dx="0.3">5</tspan></text>
<path d="M38.9,331.0 L39.3,328.5 L40.0,326.8 L41.0,324.8 L41.8,322.7 L43.5,321.8 L45.5,321.2 L47.7,319.8 L49.5,319.6 L51.0,318.9 L52.5,318.4 L53.6,318.0 L54.8,319.5 L56.0,320.8 L57.2,321.2 L58.3,321.5 L60.0,321.2 L61.8,321.8 L63.5,322.6 L65.4,322.7 L67.0,323.3 L68.5,322.6 L70.2,321.9 L71.9,322.3 L72.3,323.6 L71.2,325.2 L70.0,326.5 L69.0,328.6 L68.6,330.8 L67.8,333.3 L66.0,334.8 L64.5,335.6 L63.0,336.9 L61.0,338.0 L59.0,339.4 L56.0,340.4 L53.0,340.3 L50.0,339.8 L47.5,339.3 L44.2,338.0 L42.0,336.5 L40.0,334.5 Z" fill="#8fdcf7" stroke="#3443d2" stroke-width="1.1" stroke-linejoin="round"/>
<path d="M41.5,331.0 L42.0,328.0 L43.3,325.5 L45.0,323.4 L47.5,322.2 L50.0,321.0 L53.0,320.6 L55.5,322.0 L58.0,323.0 L61.0,323.0 L63.5,324.0 L66.0,324.8 L68.5,324.5 L69.8,324.5 L68.4,326.8 L67.2,329.5 L66.4,332.3 L64.0,334.2 L61.5,336.0 L58.5,338.0 L55.5,338.8 L52.0,338.6 L48.5,337.8 L45.5,336.6 L43.0,334.5 Z" fill="#46d0f2" stroke="#5b7ee6" stroke-width="0.6" stroke-linejoin="round"/>
<path d="M44.8,332.0 L45.3,328.5 L47.0,325.5 L49.5,323.8 L52.5,323.2 L55.0,324.2 L57.5,325.3 L60.0,326.0 L62.5,327.5 L63.8,329.8 L62.8,332.5 L60.8,335.0 L58.0,336.8 L55.0,337.6 L51.5,337.5 L48.5,336.6 L46.2,334.8 Z" fill="#5be24e"/>
<ellipse cx="41.6" cy="331.2" rx="1.2" ry="2.6" fill="#eaeefe" stroke="#6a78de" stroke-width="0.5"/>
<ellipse cx="54.8" cy="332.2" rx="5.4" ry="4.2" fill="#c6ea34"/>
<ellipse cx="57.6" cy="332.7" rx="3.3" ry="2.7" fill="#f3a32a"/>
<circle cx="58.6" cy="332.9" r="1.5" fill="#e3421c"/>
<circle cx="62" cy="327.5" r="1.2" fill="#6ce85a"/>
<circle cx="54.2" cy="316.8" r="1.1" fill="none" stroke="#5060d0" stroke-width="0.75"/>
<circle cx="68.9" cy="314.9" r="1.1" fill="none" stroke="#5060d0" stroke-width="0.75"/>
<path d="M154.7,333.4 L155.2,331.2 L156.5,330.5 L157.5,328.9 L159,328.6 L159.5,327.2 L161.5,326.6 L161.8,325.2 L163.6,324.6 L164.5,323.3 L166,324 L167.3,323 L168.4,323.8 L169.5,322.6 L170.4,322.1 L170.6,320.5 L171.8,319.7 L173,320.3 L173.8,319.4 L175.3,320.6 L176.3,320 L177.9,320.7 L178.4,322 L177.5,323 L178.6,324.2 L177.6,325.9 L178.5,327.5 L166,340 L164.5,339.2 L162.8,339.5 L160.9,338.8 L159.7,337.7 L158.1,337.9 L157,336.5 L155.4,336.1 L155.2,334.8 Z" fill="#f7f7fe" stroke="#5a50cf" stroke-width="0.9" stroke-linejoin="round"/>
<path d="M157,333.5 C157.5,331 159.5,329.8 161.5,329.2 C163,329.5 164,331 164.5,333 C164,335 163,336.5 161,337 C159,336.6 157.3,335.5 157,333.5 Z" fill="#dfe3fa" stroke="#7f7ada" stroke-width="0.6"/>
<path d="M168.5,325.5 C169.5,323.8 171.5,322.3 173.5,321.8 C175,322.5 175.5,324 176.5,325.2" fill="none" stroke="#7f7ada" stroke-width="0.6"/>
<path d="M164.3,333 L165.2,329 L167.5,326.2 L171,325.3 L174.8,325.6 L178,327.5 L180.4,330.5 L180.6,334.5 L179,338 L175.5,340.3 L171,340.7 L167,339.5 L164.8,336.8 Z" fill="#8ab0f2" stroke="#5a6ee0" stroke-width="0.7" stroke-linejoin="round"/>
<ellipse cx="171.7" cy="333.2" rx="6.2" ry="6.0" fill="#4cc8f2"/>
<ellipse cx="171.4" cy="333.3" rx="4.7" ry="4.5" fill="#4fe07a"/>
<ellipse cx="171.3" cy="333.4" rx="2.9" ry="2.8" fill="#cfe23e"/>
<circle cx="171.2" cy="333.4" r="1.8" fill="#f0922a"/>
<circle cx="171.0" cy="333.4" r="0.9" fill="#d8361c"/>
<rect x="50.7" y="311.3" width="37.1" height="33.8" fill="none" stroke="#d63848" stroke-width="1.15"/>
<rect x="163.3" y="311.3" width="37.4" height="33.8" fill="none" stroke="#d63848" stroke-width="1.15"/>
<text x="69.00" y="304.90" font-size="10" text-anchor="middle" font-weight="normal" font-style="normal" fill="#1a1a1a" >74.1</text>
<text x="182.30" y="304.90" font-size="10" text-anchor="middle" font-weight="normal" font-style="normal" fill="#1a1a1a" >89.2</text>
<line x1="10.60" y1="367.25" x2="32.00" y2="367.25" stroke="#000" stroke-width="1.6" />
<path d="M37.2,367.25 L31,364.6 L31,369.9 Z" fill="#000"/>
<text x="10.90" y="380.80" font-size="10.3" text-anchor="start" font-weight="normal" font-style="normal" fill="#1a1a1a" >TIGIT-APC</text>
<line x1="320.90" y1="251.30" x2="320.90" y2="357.10" stroke="#222" stroke-width="1.3" />
<line x1="318.20" y1="356.50" x2="479.30" y2="356.50" stroke="#222" stroke-width="1.3" />
<line x1="318.00" y1="356.50" x2="320.90" y2="356.50" stroke="#222" stroke-width="1.2" />
<text x="314.60" y="359.70" font-size="9.3" text-anchor="end" font-weight="normal" font-style="normal" fill="#1a1a1a" >0</text>
<line x1="318.00" y1="335.60" x2="320.90" y2="335.60" stroke="#222" stroke-width="1.2" />
<text x="314.60" y="338.80" font-size="9.3" text-anchor="end" font-weight="normal" font-style="normal" fill="#1a1a1a" >20</text>
<line x1="318.00" y1="314.70" x2="320.90" y2="314.70" stroke="#222" stroke-width="1.2" />
<text x="314.60" y="317.90" font-size="9.3" text-anchor="end" font-weight="normal" font-style="normal" fill="#1a1a1a" >40</text>
<line x1="318.00" y1="293.80" x2="320.90" y2="293.80" stroke="#222" stroke-width="1.2" />
<text x="314.60" y="297.00" font-size="9.3" text-anchor="end" font-weight="normal" font-style="normal" fill="#1a1a1a" >60</text>
<line x1="318.00" y1="272.90" x2="320.90" y2="272.90" stroke="#222" stroke-width="1.2" />
<text x="314.60" y="276.10" font-size="9.3" text-anchor="end" font-weight="normal" font-style="normal" fill="#1a1a1a" >80</text>
<line x1="318.00" y1="252.00" x2="320.90" y2="252.00" stroke="#222" stroke-width="1.2" />
<text x="314.60" y="255.20" font-size="9.3" text-anchor="end" font-weight="normal" font-style="normal" fill="#1a1a1a" >100</text>
<text transform="translate(279.0,303.3) rotate(-90)" font-size="10.3" text-anchor="middle" fill="#1a1a1a">TIGIT<tspan font-size="6" dy="-4">+</tspan><tspan dy="4"> (%)</tspan></text>
<text transform="translate(295.9,305) rotate(-90)" font-size="9.6" text-anchor="middle" fill="#1a1a1a">on Tregs</text>
<path d="M329.00,356.50 V321.28 H346.10 V356.50" fill="none" stroke="#1e8c1e" stroke-width="1.7" stroke-linejoin="round"/>
<path d="M354.00,356.50 V308.43 H370.60 V356.50" fill="none" stroke="#e5202a" stroke-width="1.7" stroke-linejoin="round"/>
<path d="M378.30,356.50 V320.34 H395.40 V356.50" fill="none" stroke="#1e8c1e" stroke-width="1.7" stroke-linejoin="round"/>
<path d="M404.00,356.50 V313.03 H419.60 V356.50" fill="none" stroke="#e5202a" stroke-width="1.7" stroke-linejoin="round"/>
<path d="M428.90,356.50 V285.44 H445.20 V356.50" fill="none" stroke="#1e8c1e" stroke-width="1.7" stroke-linejoin="round"/>
<path d="M453.50,356.50 V272.90 H470.40 V356.50" fill="none" stroke="#e5202a" stroke-width="1.7" stroke-linejoin="round"/>
<line x1="337.50" y1="313.80" x2="337.50" y2="329.00" stroke="#1e8c1e" stroke-width="1.5" />
<line x1="334.90" y1="313.80" x2="340.10" y2="313.80" stroke="#1e8c1e" stroke-width="1.5" />
<line x1="334.90" y1="329.00" x2="340.10" y2="329.00" stroke="#1e8c1e" stroke-width="1.5" />
<circle cx="337.50" cy="313.60" r="2.10" fill="#1e8c1e"/>
<circle cx="334.20" cy="317.20" r="2.10" fill="#1e8c1e"/>
<circle cx="343.90" cy="320.30" r="2.10" fill="#1e8c1e"/>
<circle cx="340.60" cy="324.00" r="2.10" fill="#1e8c1e"/>
<circle cx="333.80" cy="329.50" r="2.10" fill="#1e8c1e"/>
<line x1="362.30" y1="298.80" x2="362.30" y2="318.30" stroke="#e5202a" stroke-width="1.5" />
<line x1="359.10" y1="298.80" x2="365.50" y2="298.80" stroke="#e5202a" stroke-width="1.5" />
<line x1="359.10" y1="318.30" x2="365.50" y2="318.30" stroke="#e5202a" stroke-width="1.5" />
<rect x="360.70" y="289.00" width="3.99" height="3.99" fill="#e5202a"/>
<rect x="358.20" y="311.40" width="3.99" height="3.99" fill="#e5202a"/>
<rect x="362.81" y="311.20" width="3.99" height="3.99" fill="#e5202a"/>
<rect x="360.50" y="314.00" width="3.99" height="3.99" fill="#e5202a"/>
<rect x="358.81" y="313.20" width="3.99" height="3.99" fill="#e5202a"/>
<line x1="386.80" y1="318.20" x2="386.80" y2="325.00" stroke="#1e8c1e" stroke-width="1.5" />
<line x1="384.00" y1="318.20" x2="389.60" y2="318.20" stroke="#1e8c1e" stroke-width="1.5" />
<line x1="384.00" y1="325.00" x2="389.60" y2="325.00" stroke="#1e8c1e" stroke-width="1.5" />
<path d="M382.50,316.00 L384.80,320.03 L380.20,320.03Z" fill="#1e8c1e"/>
<path d="M386.00,316.00 L388.30,320.03 L383.70,320.03Z" fill="#1e8c1e"/>
<path d="M390.50,315.70 L392.80,319.73 L388.20,319.73Z" fill="#1e8c1e"/>
<path d="M387.50,320.20 L389.80,324.23 L385.20,324.23Z" fill="#1e8c1e"/>
<path d="M383.80,325.40 L386.10,329.43 L381.50,329.43Z" fill="#1e8c1e"/>
<line x1="412.20" y1="304.60" x2="412.20" y2="319.00" stroke="#e5202a" stroke-width="1.5" />
<line x1="409.00" y1="304.60" x2="415.40" y2="304.60" stroke="#e5202a" stroke-width="1.5" />
<line x1="409.00" y1="319.00" x2="415.40" y2="319.00" stroke="#e5202a" stroke-width="1.5" />
<path d="M412.60,309.50 L414.90,305.47 L410.30,305.47Z" fill="#e5202a"/>
<path d="M418.60,310.10 L420.90,306.07 L416.30,306.07Z" fill="#e5202a"/>
<path d="M408.50,313.80 L410.80,309.77 L406.20,309.77Z" fill="#e5202a"/>
<path d="M413.00,317.30 L415.30,313.27 L410.70,313.27Z" fill="#e5202a"/>
<path d="M412.60,323.10 L414.90,319.07 L410.30,319.07Z" fill="#e5202a"/>
<line x1="436.80" y1="277.00" x2="436.80" y2="294.00" stroke="#1e8c1e" stroke-width="1.5" />
<line x1="434.00" y1="277.00" x2="439.60" y2="277.00" stroke="#1e8c1e" stroke-width="1.5" />
<line x1="434.00" y1="294.00" x2="439.60" y2="294.00" stroke="#1e8c1e" stroke-width="1.5" />
<rect x="434.71" y="272.81" width="4.18" height="4.18" fill="#1e8c1e"/>
<rect x="432.11" y="276.11" width="4.18" height="4.18" fill="#1e8c1e"/>
<rect x="438.21" y="282.01" width="4.18" height="4.18" fill="#1e8c1e"/>
<rect x="437.61" y="289.91" width="4.18" height="4.18" fill="#1e8c1e"/>
<rect x="431.71" y="293.91" width="4.18" height="4.18" fill="#1e8c1e"/>
<line x1="461.90" y1="264.80" x2="461.90" y2="280.30" stroke="#e5202a" stroke-width="1.5" />
<line x1="457.90" y1="264.80" x2="465.90" y2="264.80" stroke="#e5202a" stroke-width="1.5" />
<line x1="457.90" y1="280.30" x2="465.90" y2="280.30" stroke="#e5202a" stroke-width="1.5" />
<path d="M465.50,260.88 L467.92,265.11 L463.08,265.11Z" fill="#e5202a"/>
<path d="M455.40,265.48 L457.81,269.71 L452.98,269.71Z" fill="#e5202a"/>
<path d="M458.60,269.08 L461.02,273.31 L456.19,273.31Z" fill="#e5202a"/>
<path d="M465.50,274.19 L467.92,278.41 L463.08,278.41Z" fill="#e5202a"/>
<path d="M462.20,280.58 L464.62,284.81 L459.78,284.81Z" fill="#e5202a"/>
<text x="328.8" y="265.6" font-size="8" fill="#1a1a1a" class="th"><tspan font-style="italic">P</tspan> = 0.0484</text>
<line x1="336.50" y1="272.30" x2="356.50" y2="272.30" stroke="#222" stroke-width="1.3" />
<text x="380.6" y="290.3" font-size="8" fill="#1a1a1a" class="th"><tspan font-style="italic">P</tspan> = 0.0455</text>
<line x1="388.10" y1="296.50" x2="407.80" y2="296.50" stroke="#222" stroke-width="1.3" />
<text x="429.0" y="248.5" font-size="8" fill="#1a1a1a" class="th"><tspan font-style="italic">P</tspan> = 0.0315</text>
<line x1="437.40" y1="254.70" x2="457.30" y2="254.70" stroke="#222" stroke-width="1.3" />
<rect x="479.8" y="229.4" width="8.2" height="4.6" fill="#1e8c1e"/>
<rect x="479.8" y="239.0" width="8.2" height="4.6" fill="#ee1c24"/>
<text x="491.60" y="233.90" font-size="6" text-anchor="start" font-weight="normal" font-style="normal" fill="#1a1a1a" class="lt">ISO</text>
<text x="491.50" y="243.80" font-size="7.1" text-anchor="start" font-weight="normal" font-style="normal" fill="#1a1a1a" class="lt">Anti-PD1</text>
<text x="348.00" y="370.30" font-size="10" text-anchor="middle" font-weight="normal" font-style="normal" fill="#1a1a1a" >Spleen</text>
<text x="398.00" y="370.30" font-size="10" text-anchor="middle" font-weight="normal" font-style="normal" fill="#1a1a1a" >LN</text>
<text x="448.80" y="370.30" font-size="10" text-anchor="middle" font-weight="normal" font-style="normal" fill="#1a1a1a" >Tumor</text>
</svg>
</body></html>
